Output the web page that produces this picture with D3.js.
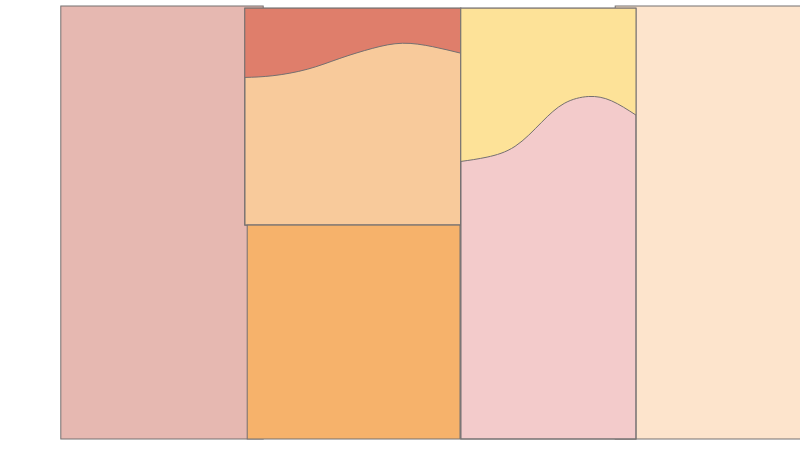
<!DOCTYPE html>
<html>
<head>
<meta charset="utf-8">
<script src="https://cdn.jsdelivr.net/npm/d3@7"></script>
<style>
  html, body { margin: 0; padding: 0; background: #fff; }
  svg { display: block; }
</style>
</head>
<body>
<svg id="chart" width="800" height="450"></svg>
<script>
// ---- data ----
// columns: horizontal extent in chart-percent units, vertical extent in value units (0-100)
const columnNames = ["A", "B", "C", "E", "D"];
const columnStart = [7.6, 30.6, 30.9, 57.6, 76.9];
const columnEnd   = [32.9, 57.6, 57.5, 79.5, 102.5];
const columnLow   = [0, 49.4, 0, 0, 0];
const columnHigh  = [100, 99.5, 49.4, 99.5, 100];
const columnFill  = ["#e6b8b1", "#f8ca9b", "#f6b26b", "#f3cbcb", "#fde4cc"];

// split boundaries inside column B and column E (value at fraction t of column width)
const splitBT = [0, 0.13, 0.29, 0.44, 0.59, 0.73, 0.87, 1];
const splitBV = [83.5, 83.9, 85.4, 87.9, 90.2, 91.4, 90.6, 89.1];
const splitET = [0, 0.15, 0.31, 0.46, 0.59, 0.73, 0.86, 1];
const splitEV = [64.1, 65.1, 67.6, 73.1, 77.5, 79.1, 78.1, 74.8];
const splitFill = { B: "#df7e6b", E: "#fde298" };

// ---- scales ----
const svg = d3.select("#chart");
const x = d3.scaleLinear().domain([0, 100]).range([0, 800]);
const y = d3.scaleLinear().domain([0, 100]).range([439, 6]);
const stroke = "#757070";
const curve = d3.curveNatural;

const cols = columnNames.map((n, i) => ({
  name: n, x0: columnStart[i], x1: columnEnd[i],
  lo: columnLow[i], hi: columnHigh[i], fill: columnFill[i]
}));
const byName = Object.fromEntries(cols.map(c => [c.name, c]));

function drawRect(c) {
  svg.append("rect")
    .attr("x", x(c.x0)).attr("y", y(c.hi))
    .attr("width", x(c.x1) - x(c.x0))
    .attr("height", y(c.lo) - y(c.hi))
    .attr("fill", c.fill)
    .attr("stroke", stroke).attr("stroke-width", 1);
}

function drawSplit(c, ts, vs, fill) {
  const pts = ts.map((t, i) => [c.x0 + t * (c.x1 - c.x0), vs[i]]);
  const line = d3.line().x(d => x(d[0])).y(d => y(d[1])).curve(curve);
  const area = d3.area().x(d => x(d[0])).y0(() => y(c.hi)).y1(d => y(d[1])).curve(curve);
  svg.append("path").attr("d", area(pts)).attr("fill", fill).attr("stroke", "none");
  svg.append("path").attr("d", line(pts)).attr("fill", "none")
    .attr("stroke", stroke).attr("stroke-width", 1);
  // redraw outline
  svg.append("rect")
    .attr("x", x(c.x0)).attr("y", y(c.hi))
    .attr("width", x(c.x1) - x(c.x0))
    .attr("height", y(c.lo) - y(c.hi))
    .attr("fill", "none")
    .attr("stroke", stroke).attr("stroke-width", 1);
}

drawRect(byName.A);
drawRect(byName.D);
drawRect(byName.B);
drawSplit(byName.B, splitBT, splitBV, splitFill.B);
drawRect(byName.C);
drawRect(byName.E);
drawSplit(byName.E, splitET, splitEV, splitFill.E);
</script>
</body>
</html>
